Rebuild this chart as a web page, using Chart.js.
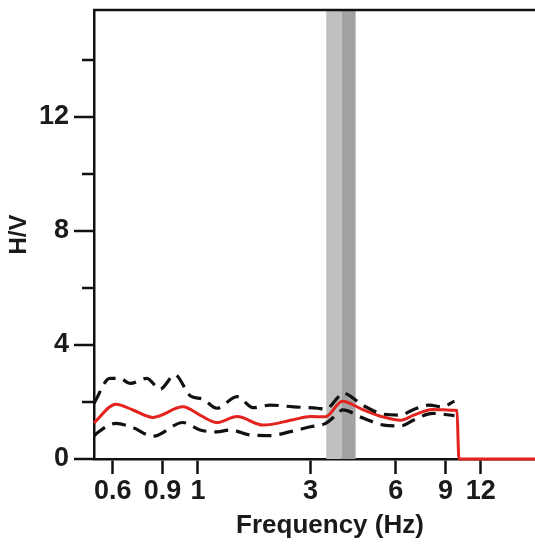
<!DOCTYPE html>
<html lang="en">
<head>
    <meta charset="UTF-8">
    <title>H/V spectrum</title>
    <script src="https://cdn.jsdelivr.net/npm/chart.js@4"></script>
    <style>
        body { margin: 0; background: #fff; overflow: hidden; }
        #wrap { width: 535px; height: 545px; overflow: hidden; }
    </style>
</head>
<body>
    <div id="wrap">
        <canvas id="graph" width="570" height="545"></canvas>
    </div>

    <script>
        // mean H/V curve
        const meanFreq = [0.515, 0.615, 0.707, 0.832, 1.063, 1.22, 1.40, 1.65, 2.04, 2.61, 3.0, 3.39, 3.89, 4.62, 5.44, 6.25, 6.95, 8.09, 9.68, 9.88, 10.04, 24];
        const meanHV   = [1.27, 1.92, 1.72, 1.46, 1.83, 1.54, 1.28, 1.49, 1.19, 1.38, 1.49, 1.48, 2.03, 1.72, 1.47, 1.36, 1.54, 1.74, 1.71, 1.70, 0, 0];

        // mean + std
        const upperFreq = [0.515, 0.586, 0.636, 0.690, 0.792, 0.881, 0.996, 1.126, 1.25, 1.40, 1.65, 1.88, 2.16, 2.61, 3.18, 3.39, 3.77, 3.89, 4.62, 5.44, 6.25, 6.95, 7.89, 8.77, 9.68];
        const upperHV   = [1.95, 2.83, 2.83, 2.65, 2.83, 2.45, 2.95, 2.22, 2.10, 1.78, 2.19, 1.80, 1.89, 1.83, 1.78, 1.75, 2.19, 2.32, 1.87, 1.57, 1.54, 1.74, 1.89, 1.83, 2.03];

        // mean - std
        const lowerFreq = [0.515, 0.527, 0.615, 0.707, 0.832, 1.063, 1.22, 1.40, 1.56, 1.84, 2.16, 2.55, 3.0, 3.39, 3.77, 3.89, 4.62, 5.44, 6.25, 6.95, 8.09, 9.68];
        const lowerHV   = [0.80, 0.90, 1.25, 1.10, 0.80, 1.28, 1.02, 0.95, 1.02, 0.84, 0.82, 0.96, 1.13, 1.25, 1.62, 1.72, 1.43, 1.19, 1.16, 1.37, 1.60, 1.52];

        // peak frequency bands (Hz)
        const bandOuter = [3.41, 3.86];
        const bandInner = [3.86, 4.33];

        const xTickValues = [0.6, 0.9, 1.2, 3, 6, 9, 12];
        const xTickLabels = ['0.6', '0.9', '1', '3', '6', '9', '12'];
        const yTickValues = [0, 2, 4, 6, 8, 10, 12, 14];

        const toPoints = (xs, ys) => xs.map((x, i) => ({x: x, y: ys[i]}));

        const frame = {
            id: 'frame',
            beforeDatasetsDraw(chart) {
                const {ctx, chartArea, scales} = chart;
                const x = scales.x;
                const fill = (band, color) => {
                    const a = x.getPixelForValue(band[0]);
                    const b = x.getPixelForValue(band[1]);
                    ctx.fillStyle = color;
                    ctx.fillRect(a, chartArea.top, b - a, chartArea.bottom - chartArea.top);
                };
                ctx.save();
                fill(bandOuter, '#c0c0c0');
                fill(bandInner, '#a2a2a5');
                ctx.restore();
            },
            afterDraw(chart) {
                const {ctx, chartArea, scales} = chart;
                const y = scales.y;
                ctx.save();
                ctx.strokeStyle = '#111';
                ctx.lineWidth = 2.5;
                ctx.beginPath();
                ctx.moveTo(chartArea.left - 1, chartArea.top);
                ctx.lineTo(chart.width, chartArea.top);
                y.ticks.forEach(t => {
                    const py = y.getPixelForValue(t.value);
                    const len = t.value % 4 === 0 ? 20 : 12;
                    ctx.moveTo(chartArea.left - len, py);
                    ctx.lineTo(chartArea.left, py);
                });
                ctx.stroke();
                ctx.restore();
            }
        };

        // no extra room for labels that overhang the chart area
        const noOverhang = s => {
            s.paddingTop = 0;
            s.paddingBottom = 0;
            s.paddingLeft = 0;
            s.paddingRight = 0;
        };

        const font = {family: 'Liberation Sans, Arial, sans-serif', weight: 'bold'};

        new Chart(document.getElementById('graph').getContext('2d'), {
            type: 'line',
            data: {
                datasets: [
                    {
                        data: toPoints(upperFreq, upperHV),
                        borderColor: '#111',
                        borderWidth: 3.2,
                        borderDash: [14, 8],
                        pointRadius: 0,
                        cubicInterpolationMode: 'monotone'
                    },
                    {
                        data: toPoints(lowerFreq, lowerHV),
                        borderColor: '#111',
                        borderWidth: 3.2,
                        borderDash: [14, 8],
                        pointRadius: 0,
                        cubicInterpolationMode: 'monotone'
                    },
                    {
                        data: toPoints(meanFreq, meanHV),
                        borderColor: '#e3231e',
                        borderWidth: 3,
                        pointRadius: 0,
                        clip: 4,
                        cubicInterpolationMode: 'monotone'
                    }
                ]
            },
            options: {
                responsive: false,
                animation: false,
                layout: {padding: {top: 10, right: 4, left: 0, bottom: 0}},
                plugins: {legend: {display: false}, tooltip: {enabled: false}},
                scales: {
                    x: {
                        type: 'logarithmic',
                        min: 0.515,
                        max: 24,
                        afterBuildTicks: s => { s.ticks = xTickValues.map(v => ({value: v})); },
                        afterFit: s => { s.height = 86; noOverhang(s); },
                        border: {display: true, color: '#111', width: 2.5},
                        grid: {drawOnChartArea: false, drawTicks: true, tickLength: 15, tickWidth: 2.5, tickColor: '#111'},
                        ticks: {
                            autoSkip: false,
                            maxRotation: 0,
                            padding: 1,
                            color: '#1a1a1a',
                            font: Object.assign({size: 27}, font),
                            callback: (v, i) => xTickLabels[i]
                        },
                        title: {
                            display: true,
                            text: 'Frequency (Hz)',
                            color: '#1a1a1a',
                            font: Object.assign({size: 26}, font),
                            padding: {top: 0, bottom: 4}
                        }
                    },
                    y: {
                        min: 0,
                        max: 15.75,
                        afterBuildTicks: s => { s.ticks = yTickValues.map(v => ({value: v})); },
                        afterFit: s => { s.width = 94; noOverhang(s); },
                        border: {display: true, color: '#111', width: 2.5},
                        grid: {drawOnChartArea: false, drawTicks: false},
                        ticks: {
                            padding: 25,
                            color: '#1a1a1a',
                            font: Object.assign({size: 27}, font),
                            callback: v => (v % 4 === 0 ? String(v) : '')
                        },
                        title: {
                            display: true,
                            text: 'H/V',
                            color: '#1a1a1a',
                            font: Object.assign({size: 24}, font),
                            padding: {top: 5, bottom: 0}
                        }
                    }
                }
            },
            plugins: [frame]
        });
    </script>
</body>
</html>
